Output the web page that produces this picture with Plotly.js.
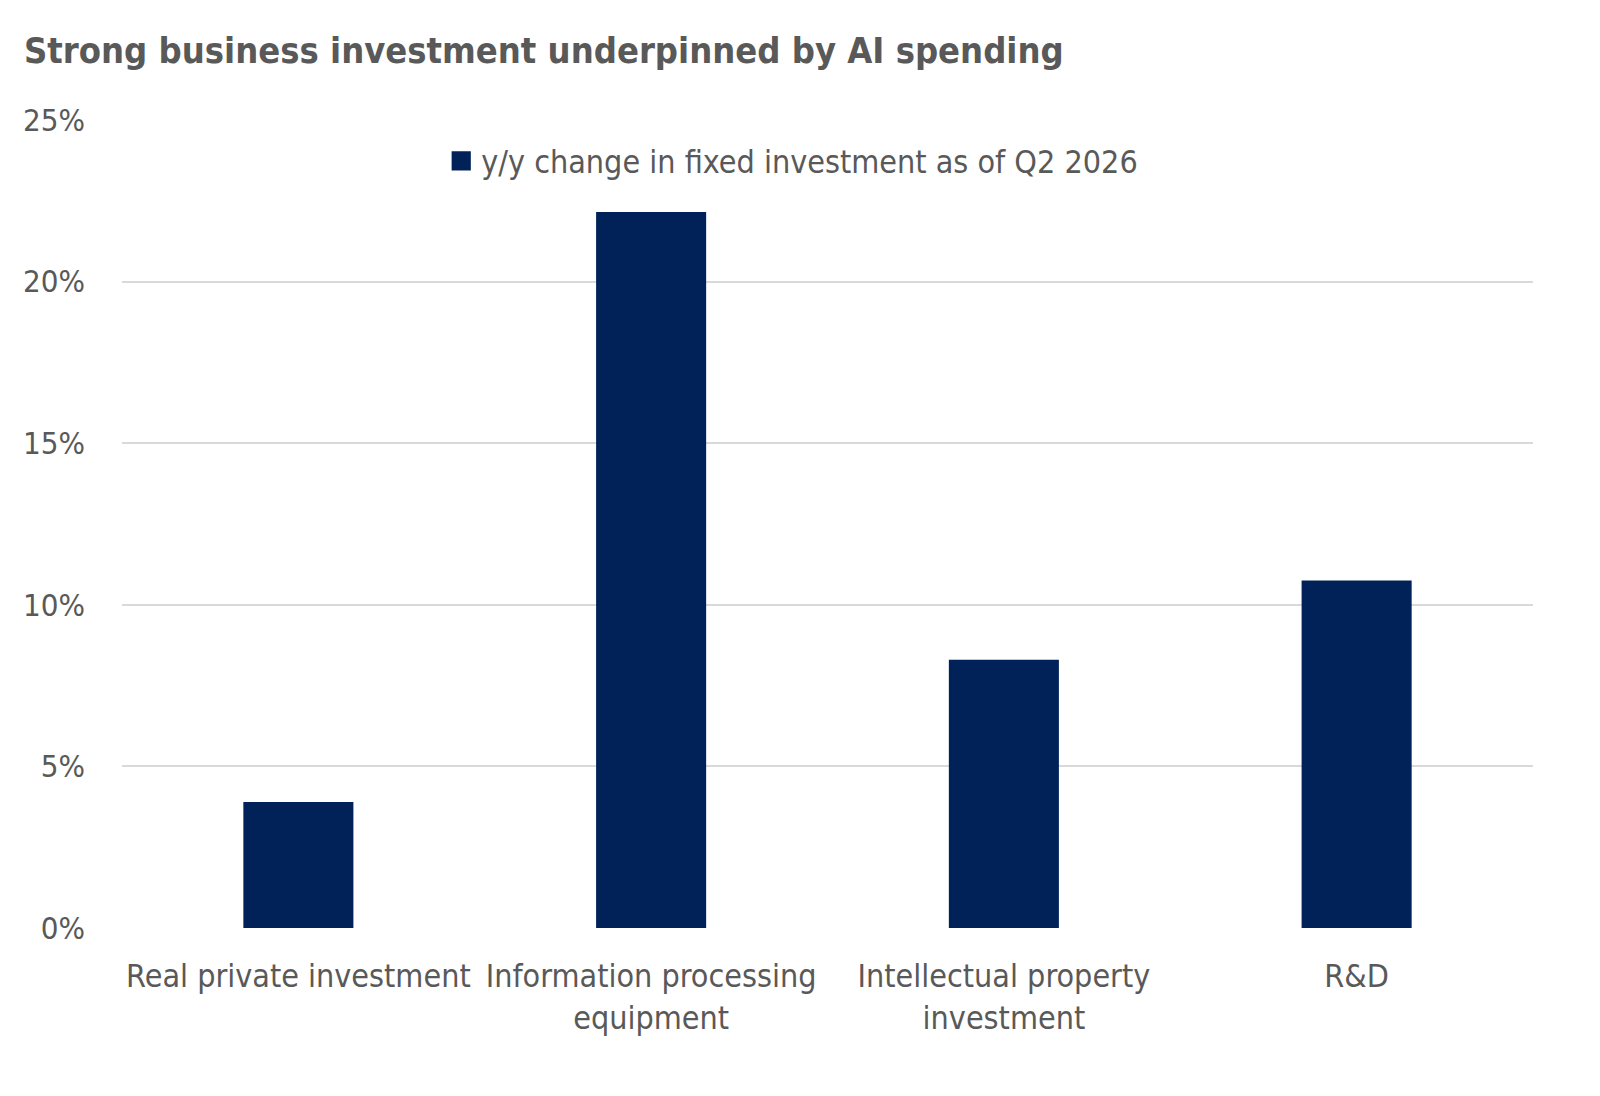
<!DOCTYPE html>
<html>
<head>
<meta charset="utf-8">
<script src="https://cdn.plot.ly/plotly-3.0.1.min.js"></script>
<style>html,body{margin:0;padding:0;background:#fff;}#chart{width:1600px;height:1096px;}</style>
</head>
<body>
<div id="chart"></div>
<script>
const categories = ["Real private investment", "Information processing<br>equipment", "Intellectual property<br>investment", "R&D"];
const values = [0.039, 0.2215, 0.083, 0.1075];
const seriesName = "y/y change in fixed investment as of Q2 2026";
const tickVals = [0, 0.05, 0.10, 0.15, 0.20, 0.25];
const tickText = ["0%", "5%", "10%", "15%", "20%", "25%"];

const FONT = "'Liberation Sans Narrow', 'DejaVu Sans Condensed', 'Roboto', sans-serif";
const TXT = "#595959";

Plotly.newPlot("chart", [{
  type: "bar",
  x: categories,
  y: values,
  name: seriesName,
  marker: {color: "#002259"},
  showlegend: true
}], {
  width: 1600, height: 1096,
  paper_bgcolor: "#fff", plot_bgcolor: "#fff",
  margin: {l: 122, r: 67, t: 120, b: 168},
  font: {family: FONT, color: TXT, size: 31},
  title: {text: "<b>Strong business investment underpinned by AI spending</b>", x: 24/1600, xanchor: "left", y: 1 - 50/1096, yanchor: "middle", font: {family: FONT, size: 36, color: TXT}},
  bargap: 0.688,
  showlegend: true,
  legend: {orientation: "h", x: 0.475, xanchor: "center", y: 1 - 41/808, yanchor: "middle", font: {size: 32, color: TXT}, bgcolor: "rgba(0,0,0,0)"},
  xaxis: {type: "category", showgrid: false, zeroline: false, showline: false, ticks: "", ticklabelstandoff: 26, tickfont: {size: 32, color: TXT}},
  yaxis: {range: [0, 0.25], tickvals: tickVals, ticktext: tickText, showgrid: true, gridcolor: "#d9d9d9", gridwidth: 2, zeroline: false, showline: false, ticks: "", ticklabelstandoff: 36, tickfont: {size: 31, color: TXT}}
}, {displayModeBar: false}).then(function () {
  document.querySelectorAll('#chart .legend .legendpoints path').forEach(function (p) {
    var t = p.getAttribute('transform') || '';
    p.setAttribute('transform', t + ' scale(1.6)');
  });
});
</script>
</body>
</html>
